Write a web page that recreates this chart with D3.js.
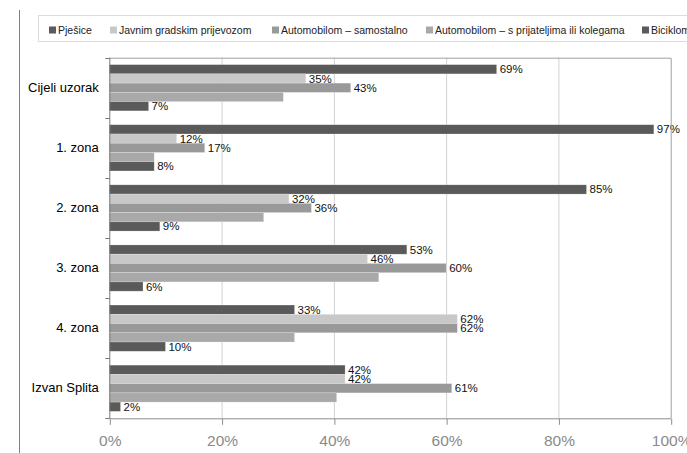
<!DOCTYPE html>
<html>
<head>
<meta charset="utf-8">
<script src="https://cdn.jsdelivr.net/npm/d3@7"></script>
<style>
  html, body { margin: 0; padding: 0; background: #fff; }
  svg { display: block; font-family: "Liberation Sans", Arial, sans-serif; }
</style>
</head>
<body>
<svg id="chart" width="687" height="453"></svg>
<script>
// ---- data ----
const categories = ["Cijeli uzorak", "1. zona", "2. zona", "3. zona", "4. zona", "Izvan Splita"];
const seriesNames = ["Pješice", "Javnim gradskim prijevozom", "Automobilom – samostalno", "Automobilom – s prijateljima ili kolegama", "Biciklom"];
const pjesice   = [69, 97, 85, 53, 33, 42];
const javnim    = [35, 12, 32, 46, 62, 42];
const autoSam   = [43, 17, 36, 60, 62, 61];
const autoPrij  = [31, 8, 27.5, 48, 33, 40.5];
const biciklom  = [7, 8, 9, 6, 10, 2];
const xTicks    = [0, 20, 40, 60, 80, 100];

(function () {
// ---- styles ----
const colors = ["#5a5a5a", "#c8c8c8", "#999999", "#a9a9a9", "#5a5a5a"];
const showLabel = [true, true, true, false, true];
const legendX = [49, 110, 272, 426, 642];

const series = [pjesice, javnim, autoSam, autoPrij, biciklom];

const svg = d3.select("#chart");
const pL = 109.3, pR = 670.7, pT = 57.7, pB = 418.3;

const x = d3.scaleLinear().domain([0, 100]).range([pL, pR]);
const y = d3.scaleBand().domain(categories).range([pT, pB]).padding(0);
const bw = y.bandwidth() / 6.5;

// left outer line
svg.append("line").attr("x1", 19.5).attr("x2", 19.5).attr("y1", 10).attr("y2", 453)
  .attr("stroke", "#808080").attr("stroke-width", 1);

// legend
svg.append("rect").attr("x", 38.5).attr("y", 15.5).attr("width", 700).attr("height", 26)
  .attr("fill", "#fff").attr("stroke", "#dcdcdc").attr("stroke-width", 1);
const lg = svg.append("g");
seriesNames.forEach((name, i) => {
  lg.append("rect").attr("x", legendX[i]).attr("y", 26.5).attr("width", 7).attr("height", 7)
    .attr("fill", colors[i]);
  lg.append("text").attr("x", legendX[i] + 9).attr("y", 34)
    .attr("font-size", "10.5px").attr("fill", "#222").text(name);
});

// gridlines
svg.append("g").selectAll("line").data(xTicks.slice(1, -1)).join("line")
  .attr("x1", d => x(d) + 0.5).attr("x2", d => x(d) + 0.5)
  .attr("y1", pT).attr("y2", pB)
  .attr("stroke", "#d2d2d2").attr("stroke-width", 1);

// bars
categories.forEach((c, ci) => {
  series.forEach((s, si) => {
    const y0 = y(c) + 0.75 * bw + si * bw;
    svg.append("rect")
      .attr("x", x(0)).attr("y", y0)
      .attr("width", x(s[ci]) - x(0)).attr("height", bw)
      .attr("fill", colors[si])
      .attr("stroke", "#ffffff").attr("stroke-opacity", 0.35).attr("stroke-width", 0.6);
    if (showLabel[si]) {
      svg.append("text")
        .attr("x", x(s[ci]) + 3).attr("y", y0 + bw / 2 + 4)
        .attr("font-size", "11.5px").attr("fill", "#111")
        .text(Math.round(s[ci]) + "%");
    }
  });
});

// frame (top & right)
svg.append("path")
  .attr("d", `M${pL},${pT + 0.5}H${pR + 0.5}V${pB}`)
  .attr("fill", "none").attr("stroke", "#a0a0a0").attr("stroke-width", 1);

// x axis
const xAxis = d3.axisBottom(x).tickValues(xTicks).tickSize(6).tickFormat(d => d + "%");
const gx = svg.append("g").attr("transform", `translate(0.5,${pB + 0.5})`).call(xAxis);
gx.select(".domain").attr("stroke", "#8c8c8c").attr("d", `M${pL},0H${pR}`);
gx.selectAll(".tick line").attr("stroke", "#8c8c8c");
gx.selectAll(".tick text").attr("font-size", "15.5px").attr("fill", "#8a8a8a")
  .attr("font-family", "Liberation Sans, Arial, sans-serif").attr("y", 27).attr("dy", 0);

// y axis
const yAxis = d3.axisLeft(y).tickSize(0).tickPadding(11);
const gy = svg.append("g").attr("transform", `translate(${pL + 0.5},0)`).call(yAxis);
gy.select(".domain").attr("stroke", "#7a7a7a").attr("d", `M0,${pT}V${pB}`);
gy.selectAll(".tick text").attr("font-size", "13px").attr("fill", "#000")
  .attr("font-family", "Liberation Sans, Arial, sans-serif");
// category boundary ticks
const bounds = categories.map(c => y(c)).concat([pB]);
svg.append("g").selectAll("line").data(bounds).join("line")
  .attr("x1", pL - 4).attr("x2", pL + 0.5)
  .attr("y1", d => Math.round(d) + 0.5).attr("y2", d => Math.round(d) + 0.5)
  .attr("stroke", "#7a7a7a").attr("stroke-width", 1);
})();
</script>
</body>
</html>
